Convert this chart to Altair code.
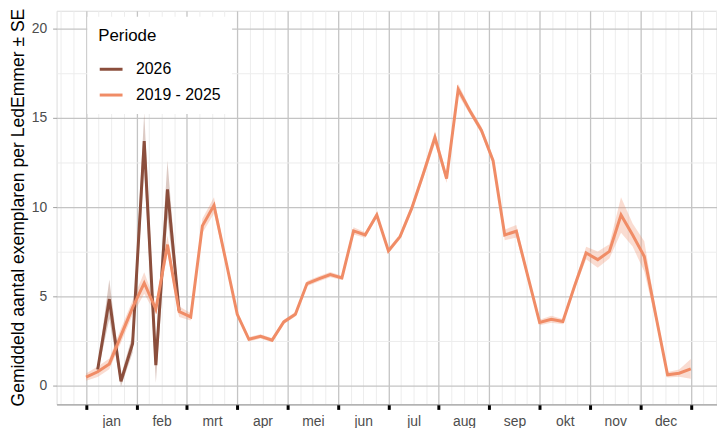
import altair as alt
import pandas as pd

# week index (0 = first week of January) for each series
weeks_hist = list(range(53))
mean_hist = [0.48, 0.78, 1.22, 2.8, 4.37, 5.75, 4.28, 7.9, 4.15, 3.85,
             8.95, 10.1, 7.05, 4.0, 2.6, 2.76, 2.55, 3.57, 4.0, 5.72,
             5.98, 6.22, 6.04, 8.67, 8.44, 9.56, 7.55, 8.35, 9.93, 11.87,
             13.9, 11.6, 16.6, 15.4, 14.3, 12.6, 8.44, 8.65, 6.1, 3.54,
             3.72, 3.59, 5.57, 7.43, 7.06, 7.52, 9.56, 8.44, 7.24, 3.9,
             0.61, 0.7, 0.94]
se_hist = [0.2, 0.3, 0.3, 0.4, 0.4, 0.6, 0.3, 0.5, 0.3, 0.2,
           0.4, 0.45, 0.2, 0.12, 0.12, 0.12, 0.12, 0.12, 0.12, 0.15,
           0.15, 0.15, 0.12, 0.2, 0.15, 0.15, 0.15, 0.15, 0.2, 0.25,
           0.35, 0.25, 0.3, 0.2, 0.2, 0.2, 0.3, 0.35, 0.2, 0.15,
           0.2, 0.15, 0.2, 0.35, 0.45, 0.4, 1.0, 0.65, 0.85, 0.3,
           0.15, 0.2, 0.55]

weeks_2026 = [1, 2, 3, 4, 5, 6, 7, 8]
mean_2026 = [0.9, 4.85, 0.25, 2.35, 13.7, 1.15, 11.0, 4.2]
se_2026 = [0.2, 1.1, 0.3, 0.5, 1.6, 1.0, 1.6, 0.3]

months = ["jan", "feb", "mrt", "apr", "mei", "jun", "jul", "aug", "sep", "okt", "nov", "dec"]
periods = ["2026", "2019 - 2025"]
colors = ["#8B4E3C", "#F08C66"]


def frame(weeks, mean, se, label):
    return pd.DataFrame({
        "pos": [w * 12 / 52 for w in weeks],
        "gem": mean,
        "lo": [m - s for m, s in zip(mean, se)],
        "hi": [m + s for m, s in zip(mean, se)],
        "Periode": label,
    })


df_hist = frame(weeks_hist, mean_hist, se_hist, periods[1])
df_new = frame(weeks_2026, mean_2026, se_2026, periods[0])

FONT = "Liberation Sans"
xvals = [v / 4 for v in range(-2, 51)]
yvals = [v * 2.5 for v in range(0, 9)]

month_arr = "[" + ",".join("'" + m + "'" for m in months) + "]"

x_enc = alt.X(
    "pos:Q",
    scale=alt.Scale(domain=[-0.585, 12.52], nice=False, zero=False),
    axis=alt.Axis(
        values=xvals,
        title=None,
        labelExpr=f"(abs(datum.value % 1 - 0.5) < 0.001 && datum.value < 12) ? {month_arr}[floor(datum.value)] : ''",
        labelOverlap=False,
        labelFlush=False,
        labelFont=FONT,
        labelFontSize=14,
        labelColor="#4D4D4D",
        labelPadding=5,
        tickSize=5,
        tickWidth=3,
        tickColor={"condition": {"test": "abs(datum.value % 1) < 0.001", "value": "#000000"}, "value": "transparent"},
        grid=True,
        gridColor={"condition": {"test": "abs(datum.value % 1) < 0.001", "value": "#C4C4C4"}, "value": "#EDEDED"},
        gridWidth={"condition": {"test": "abs(datum.value % 1) < 0.001", "value": 1.3}, "value": 1},
        domain=True,
        domainColor="#8C8C8C",
        domainWidth=1,
    ),
)

y_axis = alt.Axis(
    values=yvals,
    title="Gemiddeld aantal exemplaren per LedEmmer ± SE",
    titleFont=FONT,
    titleFontSize=17.7,
    titleFontWeight="normal",
    titleColor="#000000",
    titleAngle=270,
    titleX=-38,
    titleY=198,
    titleAlign="center",
    titleBaseline="middle",
    labelExpr="datum.value % 5 === 0 ? datum.label : ''",
    labelFont=FONT,
    labelFontSize=14,
    labelColor="#4D4D4D",
    labelPadding=6,
    tickSize=4,
    tickColor={"condition": {"test": "datum.value % 5 === 0", "value": "#A0A0A0"}, "value": "transparent"},
    grid=True,
    gridColor={"condition": {"test": "datum.value % 5 === 0", "value": "#C4C4C4"}, "value": "#EDEDED"},
    gridWidth={"condition": {"test": "datum.value % 5 === 0", "value": 1.3}, "value": 1},
    domain=False,
)

y_scale = alt.Scale(domain=[-1.05, 21], nice=False, zero=False)
color_scale = alt.Scale(domain=periods, range=colors)

legend = alt.Legend(
    orient="none",
    legendX=31,
    legendY=6,
    fillColor="white",
    padding=11,
    title="Periode",
    titleFont=FONT,
    titleFontSize=17,
    titleFontWeight="normal",
    titleColor="#000000",
    titlePadding=12,
    labelFont=FONT,
    labelFontSize=16,
    labelColor="#000000",
    labelOffset=12,
    labelLimit=300,
    symbolType="stroke",
    symbolStrokeWidth=3,
    symbolSize=529,
    symbolOpacity=1,
    rowPadding=5,
)


def ribbon(df):
    return alt.Chart(df).mark_area(fillOpacity=0.3, strokeWidth=0).encode(
        x=x_enc,
        y=alt.Y("lo:Q", scale=y_scale, axis=y_axis),
        y2="hi:Q",
        color=alt.Color("Periode:N", scale=color_scale, legend=legend),
    )


def line(df):
    return alt.Chart(df).mark_line(strokeWidth=3).encode(
        x=x_enc,
        y=alt.Y("gem:Q", scale=y_scale, axis=y_axis),
        color=alt.Color("Periode:N", scale=color_scale, legend=legend),
    )


chart = alt.layer(
    ribbon(df_new), ribbon(df_hist), line(df_new), line(df_hist)
).properties(
    width=666,
    height=397,
    autosize=alt.AutoSizeParams(type="none"),
    padding={"left": 49, "top": 1, "right": 0, "bottom": 22},
).configure_view(
    stroke="#B3B3B3",
    strokeWidth=1,
).configure(background="white")

chart.save("out.html", embed_options={"renderer": "svg", "actions": False})
